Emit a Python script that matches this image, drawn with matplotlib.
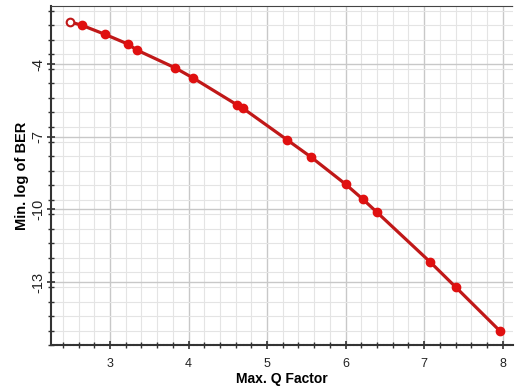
import matplotlib
matplotlib.use("Agg")
import matplotlib.pyplot as plt
from matplotlib.ticker import MultipleLocator

# Max. Q factor vs min. log of BER
q_factor = [2.49, 2.64, 2.94, 3.23, 3.34, 3.83, 4.06, 4.62, 4.69,
            5.26, 5.56, 6.00, 6.22, 6.40, 7.08, 7.40, 7.96]
log_ber = [-2.26, -2.40, -2.78, -3.18, -3.42, -4.16, -4.58, -5.69, -5.82,
           -7.14, -7.84, -8.96, -9.58, -10.12, -12.18, -13.20, -15.00]

x_ticks = [3, 4, 5, 6, 7, 8]
y_ticks = [-4, -7, -10, -13]

plt.rcParams['font.family'] = ['Liberation Sans', 'DejaVu Sans']

fig = plt.figure(figsize=(5.16, 3.9), dpi=100)
ax = fig.add_axes([0.099, 0.115, 0.895, 0.87])

ax.set_xlim(2.25, 8.13)
ax.set_ylim(-15.6, -1.6)
ax.xaxis.set_minor_locator(MultipleLocator(0.2))
ax.yaxis.set_minor_locator(MultipleLocator(0.6))
ax.set_xticks(x_ticks)
ax.set_yticks(y_ticks)
ax.set_yticklabels([str(v) for v in y_ticks], rotation=90, va='center',
                   fontsize=10.5)

ax.grid(which='major', color='#c8c8c8', linewidth=1.0)
ax.grid(which='minor', color='#e4e4e4', linewidth=0.8)
ax.set_axisbelow(True)

ax.plot(q_factor, log_ber, color='#c01818', linewidth=2.3, zorder=3)
ax.plot(q_factor[1:], log_ber[1:], 'o', color='#e01010', markersize=6, zorder=4)
ax.plot(q_factor[:1], log_ber[:1], 'o', markerfacecolor='white',
        markeredgecolor='#c01818', markeredgewidth=1.5, markersize=5.5, zorder=4)

ax.spines['right'].set_visible(False)
ax.spines['top'].set_linestyle((0, (1, 1)))
ax.spines['top'].set_color('#444444')
ax.spines['bottom'].set_linestyle((0, (1, 0.6)))
ax.spines['bottom'].set_color('#333333')
ax.spines['bottom'].set_linewidth(1.5)
ax.spines['left'].set_color('#333333')
ax.spines['left'].set_linewidth(1.5)

ax.tick_params(axis='both', which='both', direction='inout', colors='#333333',
               labelcolor='#222222')
ax.tick_params(axis='x', labelsize=9, pad=6)
ax.tick_params(axis='y', pad=1)
ax.tick_params(axis='both', which='major', length=6, width=1.2)
ax.tick_params(axis='both', which='minor', length=4, width=1.0)

ax.set_xlabel('Max. Q Factor', fontsize=10, fontweight='bold', labelpad=2)
ax.set_ylabel('Min. log of BER', fontsize=10.5, fontweight='bold', labelpad=2)

fig.savefig('out.png', dpi=100)
